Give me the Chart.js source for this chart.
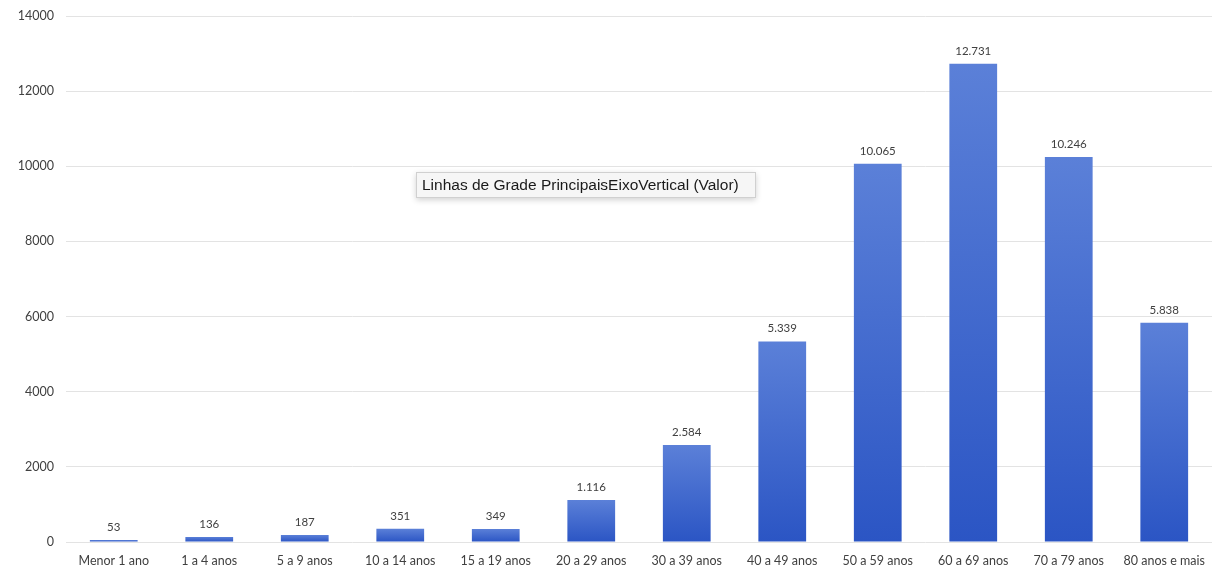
<!DOCTYPE html>
<html>
<head>
<meta charset="utf-8">
<script src="https://cdn.jsdelivr.net/npm/chart.js@4.4.0/dist/chart.umd.min.js"></script>
<style>
  html, body { margin: 0; padding: 0; background: #fff; }
  #wrap { position: relative; width: 1212px; height: 569px; }
  #tip {
    position: absolute; left: 416px; top: 172px;
    padding: 3px 16px 3px 5px;
    font: 15.5px "Liberation Sans", Arial, sans-serif; color: #1a1a1a;
    background: #f6f6f6; border: 1px solid #d0d0d0;
    box-shadow: 0 2px 6px rgba(0,0,0,0.18);
    white-space: nowrap;
  }
</style>
</head>
<body>
<div id="wrap">
  <canvas id="grafico" width="1212" height="569"></canvas>
  <div id="tip">Linhas de Grade PrincipaisEixoVertical (Valor)</div>
</div>
<script>
// faixas etárias e valores
const faixas = ['Menor 1 ano', '1 a 4 anos', '5 a 9 anos', '10 a 14 anos', '15 a 19 anos', '20 a 29 anos',
                '30 a 39 anos', '40 a 49 anos', '50 a 59 anos', '60 a 69 anos', '70 a 79 anos', '80 anos e mais'];
const valores = [53, 136, 187, 351, 349, 1116, 2584, 5339, 10065, 12731, 10246, 5838];
const ticksY = [0, 2000, 4000, 6000, 8000, 10000, 12000, 14000];

const fonte = 'Lato, "Open Sans", sans-serif';

// gradiente por barra: mais claro em cima, mais escuro embaixo
function corBarra(ctx) {
    const chart = ctx.chart;
    const y = chart.scales && chart.scales.y;
    if (!y || !chart.chartArea || ctx.raw == null) return '#3a62cc';
    const topo = y.getPixelForValue(ctx.raw);
    const base = y.getPixelForValue(0);
    if (!isFinite(topo) || !isFinite(base) || base - topo < 1) return '#3a62cc';
    const g = chart.ctx.createLinearGradient(0, topo, 0, base);
    g.addColorStop(0, '#5b80d8');
    g.addColorStop(1, '#2b55c4');
    return g;
}

// rótulos de valor acima das barras
const rotulos = {
    id: 'rotulos',
    afterDatasetsDraw(chart) {
        const ctx = chart.ctx;
        const meta = chart.getDatasetMeta(0);
        ctx.save();
        ctx.font = '11.5px ' + fonte;
        ctx.fillStyle = '#404040';
        ctx.textAlign = 'center';
        ctx.textBaseline = 'bottom';
        meta.data.forEach(function(bar, i) {
            ctx.fillText(valores[i].toLocaleString('pt-BR'), bar.x, bar.y - 7);
        });
        ctx.restore();
    }
};

new Chart(document.getElementById('grafico').getContext('2d'), {
    type: 'bar',
    data: {
        labels: faixas,
        datasets: [{
            data: valores,
            backgroundColor: corBarra,
            borderWidth: 0,
            barPercentage: 0.5,
            categoryPercentage: 1
        }]
    },
    options: {
        responsive: false,
        animation: false,
        layout: { padding: { top: 16, right: 0, left: 0, bottom: 0 } },
        plugins: {
            legend: { display: false },
            tooltip: { enabled: false }
        },
        scales: {
            x: {
                grid: { display: false, drawTicks: false },
                border: { display: false },
                ticks: { color: '#404040', font: { family: fonte, size: 12.5 }, padding: 11, maxRotation: 0, autoSkip: false },
                afterFit(axis) {
                    axis.height = 27;
                    axis.paddingLeft = 0;
                    axis.paddingRight = 0;
                }
            },
            y: {
                min: 0,
                max: 14000,
                afterBuildTicks(axis) { axis.ticks = ticksY.map(v => ({ value: v })); },
                grid: { color: '#e3e3e3', drawTicks: false },
                border: { display: false },
                ticks: {
                    color: '#404040', font: { family: fonte, size: 12.5 }, padding: 12,
                    callback: v => String(v)
                },
                afterFit(axis) {
                    axis.width = 66;
                    axis.paddingTop = 0;
                    axis.paddingBottom = 0;
                }
            }
        }
    },
    plugins: [rotulos]
});
</script>
</body>
</html>
